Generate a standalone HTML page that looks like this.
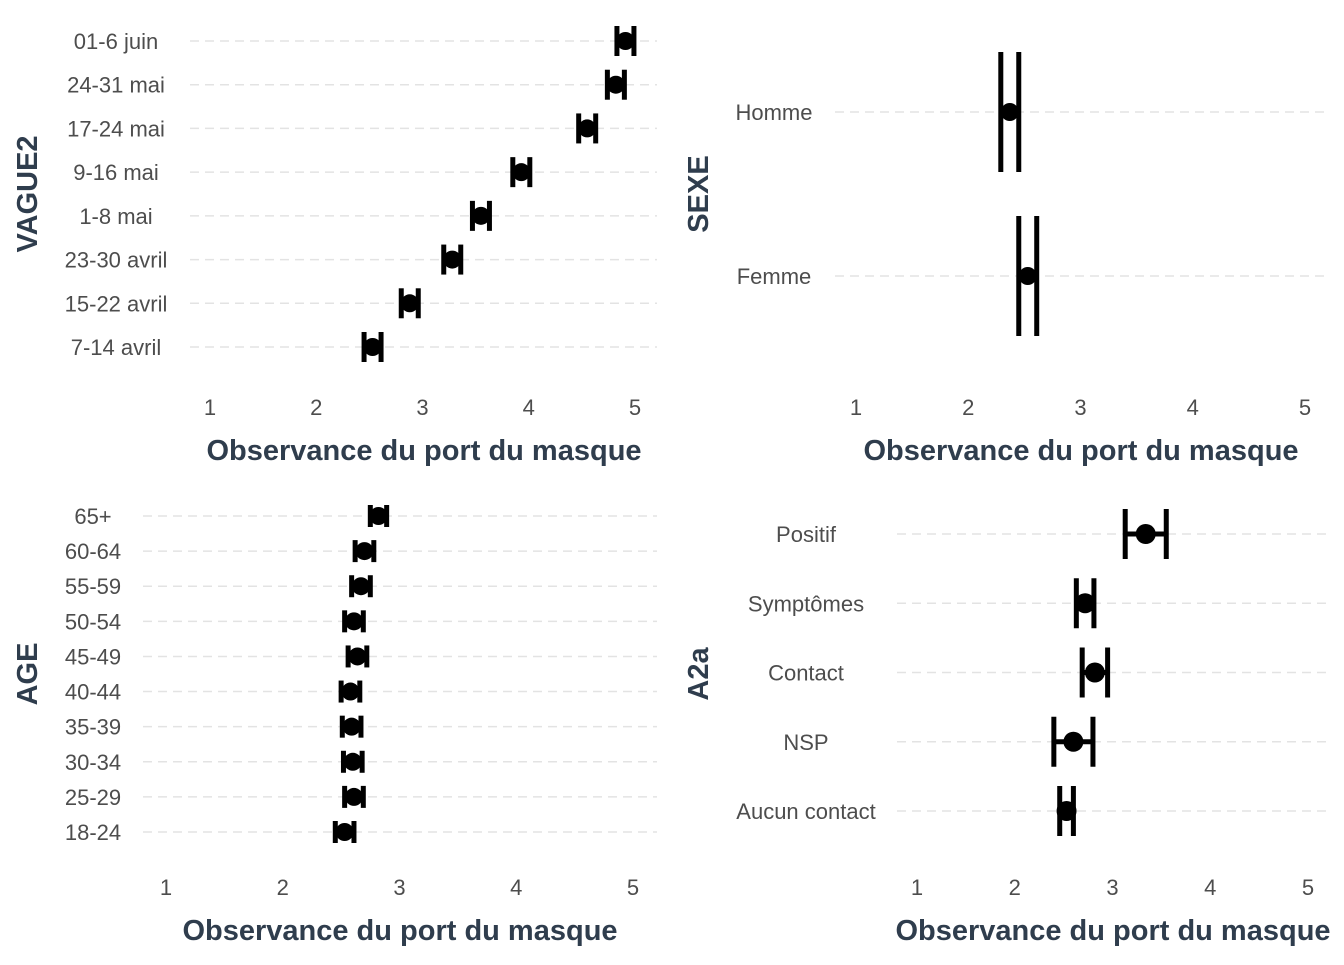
<!DOCTYPE html>
<html><head><meta charset="utf-8"><style>
body{margin:0;background:#fff;}
svg text{font-family:"Liberation Sans",sans-serif;}
</style></head><body>
<svg id="chart" width="1344" height="960" xmlns="http://www.w3.org/2000/svg"></svg>
<script>
const p1Cats=["01-6 juin","24-31 mai","17-24 mai","9-16 mai","1-8 mai","23-30 avril","15-22 avril","7-14 avril"];
const p1Vals=[4.91,4.82,4.55,3.93,3.55,3.28,2.88,2.53];
const p1Err=[0.08,0.08,0.08,0.08,0.08,0.08,0.08,0.08];
const p2Cats=["Homme","Femme"];
const p2Vals=[2.37,2.53];
const p2Err=[0.08,0.08];
const p3Cats=["65+","60-64","55-59","50-54","45-49","40-44","35-39","30-34","25-29","18-24"];
const p3Vals=[2.82,2.70,2.67,2.61,2.64,2.58,2.59,2.60,2.61,2.53];
const p3Err=[0.07,0.08,0.08,0.08,0.08,0.08,0.08,0.08,0.08,0.08];
const p4Cats=["Positif","Symptômes","Contact","NSP","Aucun contact"];
const p4Vals=[3.34,2.72,2.82,2.60,2.53];
const p4Err=[0.21,0.09,0.13,0.2,0.07];
const xTicks=[1,2,3,4,5];

const svg=document.getElementById('chart');
const NS="http://www.w3.org/2000/svg";
function mk(tag,attrs,name){const e=document.createElementNS(NS,tag);for(const k in attrs)e.setAttribute(k,attrs[k]);


svg.appendChild(e);return e;}
function panel(o,cats,vals,errs,id){
  const x=v=>o.x1+(v-1)*(o.x5-o.x1)/4;
  const y=i=>o.yTop+i*(o.yBot-o.yTop)/(cats.length-1);
  cats.forEach((c,i)=>{
    mk('line',{x1:o.gx0,x2:o.gx1,y1:y(i),y2:y(i),stroke:'#e3e3e3','stroke-width':1.5,'stroke-dasharray':'9,6'},id+'-gridline');
    const t=mk('text',{x:o.lx,y:y(i)+8,'text-anchor':'middle','font-size':22,fill:'#4d4d4d'},id+'-y-tick-label');t.textContent=c;
  });
  xTicks.forEach(v=>{const t=mk('text',{x:x(v),y:o.tickY,'text-anchor':'middle','font-size':22,fill:'#4d4d4d'},id+'-x-tick-label');t.textContent=v;});
  cats.forEach((c,i)=>{
    const lo=x(vals[i]-errs[i]),hi=x(vals[i]+errs[i]);
    mk('line',{x1:lo,x2:hi,y1:y(i),y2:y(i),stroke:'#000','stroke-width':5},id+'-errorbar');
    mk('line',{x1:lo,x2:lo,y1:y(i)-o.cap,y2:y(i)+o.cap,stroke:'#000','stroke-width':5},id+'-errorbar-cap');
    mk('line',{x1:hi,x2:hi,y1:y(i)-o.cap,y2:y(i)+o.cap,stroke:'#000','stroke-width':5},id+'-errorbar-cap');
    mk('circle',{cx:x(vals[i]),cy:y(i),r:o.r,fill:'#000'},id+'-point');
  });
  const xt=mk('text',{x:o.xtX,y:o.xtY,'text-anchor':'middle','font-size':29,'font-weight':'bold',fill:'#2f3d4d'},id+'-x-axis-title');xt.textContent="Observance du port du masque";
  const yt=mk('text',{x:0,y:0,'text-anchor':'middle','font-size':29,'font-weight':'bold',fill:'#2f3d4d',transform:`translate(${o.ytX},${o.ytY}) rotate(-90)`},id+'-y-axis-title');yt.textContent=o.ytitle;
}
panel({x1:210,x5:635,yTop:41,yBot:347,gx0:190,gx1:657,lx:116,tickY:415,cap:15,r:9,xtX:424,xtY:460,ytX:37,ytY:194,ytitle:"VAGUE2"},p1Cats,p1Vals,p1Err,'vague');
panel({x1:856,x5:1305,yTop:112,yBot:276,gx0:835,gx1:1330,lx:774,tickY:415,cap:60,r:9,xtX:1081,xtY:460,ytX:708,ytY:194,ytitle:"SEXE"},p2Cats,p2Vals,p2Err,'sexe');
panel({x1:166,x5:633,yTop:516,yBot:832,gx0:143,gx1:657,lx:93,tickY:895,cap:11,r:9,xtX:400,xtY:940,ytX:37,ytY:674,ytitle:"AGE"},p3Cats,p3Vals,p3Err,'age');
panel({x1:917,x5:1308,yTop:534,yBot:811,gx0:897,gx1:1330,lx:806,tickY:895,cap:25,r:10,xtX:1113,xtY:940,ytX:708,ytY:674,ytitle:"A2a"},p4Cats,p4Vals,p4Err,'a2a');
</script>
</body></html>
